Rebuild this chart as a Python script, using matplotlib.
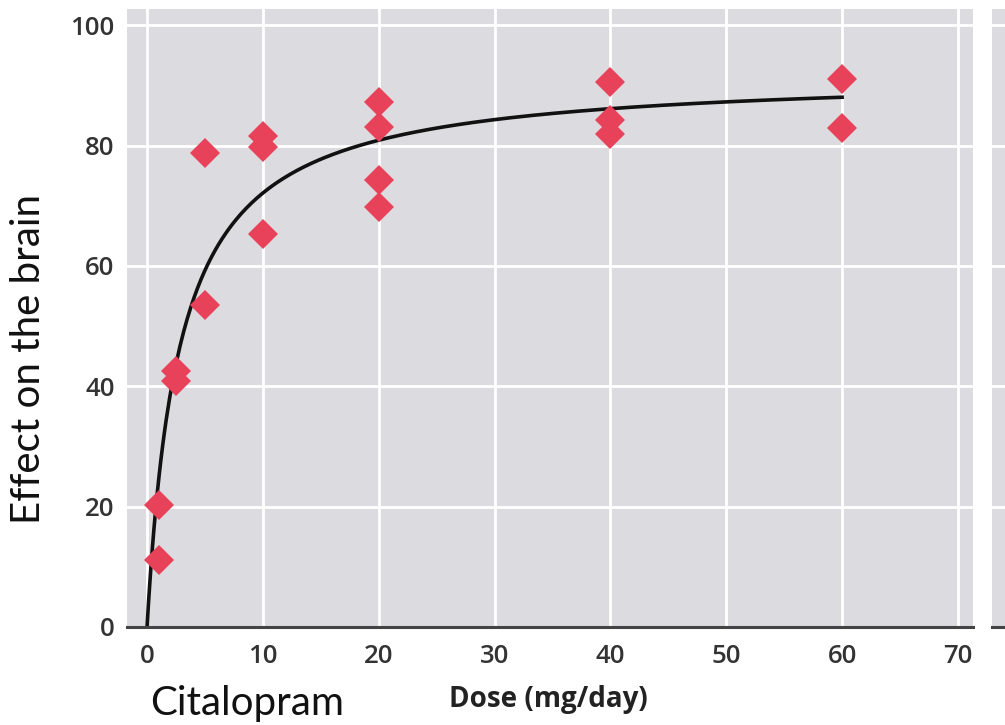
import numpy as np
import matplotlib
matplotlib.use("Agg")
import matplotlib.pyplot as plt

# ---- data ----
dose = [1, 1, 2.5, 2.5, 5, 5, 10, 10, 10, 20, 20, 20, 20, 40, 40, 40, 60, 60]
effect = [20.3, 11.1, 42.6, 40.8, 53.5, 78.8, 81.6, 79.8, 65.3,
          87.3, 83.1, 74.3, 69.8, 90.5, 84.2, 81.9, 91.0, 82.9]
x_ticks = [0, 10, 20, 30, 40, 50, 60, 70]
y_ticks = [0, 20, 40, 60, 80, 100]
# fitted Emax model parameters (curve drawn in the reference)
EMAX = 92.1
ED50 = 2.77
curve_max_dose = 60

GRAY = "#dcdce0"
RED = "#e8415a"
TICK_COLOR = "#333333"

fig = plt.figure(figsize=(10.05, 7.25), dpi=100)
W, H = 1005, 725

def fx(px):
    return px / W

def fy(py):
    return 1 - py / H

ax = fig.add_axes([fx(127), fy(627), fx(973) - fx(127), fy(9) - fy(627)])
ax.set_facecolor(GRAY)
ax.set_xlim(-1.73, 71.3)
ax.set_ylim(0, 102.7)
ax.set_xticks(x_ticks)
ax.set_yticks(y_ticks)
ax.grid(True, color="white", linewidth=2)
ax.set_axisbelow(True)
for s in ["top", "right", "left"]:
    ax.spines[s].set_visible(False)
ax.spines["bottom"].set_color("#444444")
ax.spines["bottom"].set_linewidth(2.2)
ax.tick_params(length=0, labelsize=18.5, labelcolor=TICK_COLOR)
ax.tick_params(axis="y", pad=9)
ax.tick_params(axis="x", pad=12)
for lab in ax.get_xticklabels() + ax.get_yticklabels():
    lab.set_fontfamily("Open Sans")
    lab.set_fontweight("semibold")

# curve
xc = np.linspace(0, curve_max_dose, 400)
yc = EMAX * xc / (ED50 + xc)
ax.plot(xc, yc, color="#111111", linewidth=2.6, zorder=2)

# points
ax.plot(dose, effect, linestyle="none", marker="D", markersize=15,
        color=RED, markeredgewidth=0, zorder=3)

# partial neighbouring panel at right edge
ax2 = fig.add_axes([fx(992), fy(627), fx(1010) - fx(992), fy(9) - fy(627)])
ax2.set_facecolor(GRAY)
ax2.set_xlim(0, 1)
ax2.set_ylim(0, 102.7)
ax2.set_yticks(y_ticks)
ax2.set_xticks([])
ax2.grid(True, axis="y", color="white", linewidth=2)
ax2.set_axisbelow(True)
for s in ["top", "right", "left"]:
    ax2.spines[s].set_visible(False)
ax2.spines["bottom"].set_color("#444444")
ax2.spines["bottom"].set_linewidth(2.2)
ax2.tick_params(length=0, labelleft=False, labelbottom=False)

# labels
fig.text(fx(29), fy(359), "Effect on the brain", rotation=90,
         ha="center", va="center", fontsize=29, fontfamily="Lato",
         fontweight="normal", color="#111111")
fig.text(fx(247), fy(704), "Citalopram", ha="center", va="center",
         fontsize=29, fontfamily="Lato", fontweight="normal", color="#111111")
fig.text(fx(548), fy(700), "Dose (mg/day)", ha="center", va="center",
         fontsize=20, fontfamily="Open Sans", fontweight="bold",
         color="#222222")

fig.savefig("out.png", dpi=100)
